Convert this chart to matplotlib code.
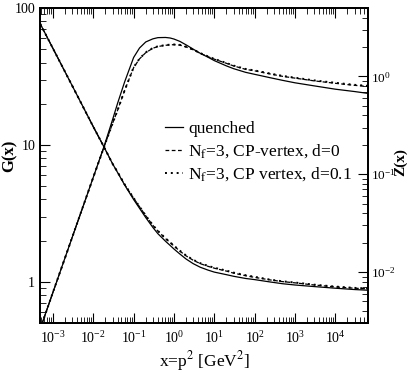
import numpy as np
import matplotlib
matplotlib.use("Agg")
import matplotlib.pyplot as plt
from matplotlib.ticker import (LogLocator, FixedLocator, FixedFormatter,
                               NullFormatter, LogFormatterSciNotation)

plt.rcParams['font.family'] = 'serif'
plt.rcParams['font.serif'] = ['Liberation Serif', 'DejaVu Serif']
plt.rcParams['mathtext.fontset'] = 'stix'

# momentum grid, x = p^2 [GeV^2]
x = [4.8e-4, 1e-3, 3e-3, 1e-2, 0.018, 0.03, 0.04, 0.06, 0.1, 0.14, 0.2, 0.3,
     0.4, 0.62, 0.8, 1.0, 1.4, 2.0, 3.0, 4.5, 7, 10, 20, 30, 60, 100, 240,
     500, 1e3, 3e3, 1e4, 3e4, 6.5e4]

# ghost dressing function G(x)
G_quenched = [77, 50.7, 27.1, 13.6, 9.8, 7.3, 6.3, 5.1, 4.0, 3.45, 2.95, 2.5,
              2.25, 1.98, 1.85, 1.74, 1.6, 1.47, 1.36, 1.28, 1.22, 1.18, 1.13,
              1.1, 1.06, 1.04, 1.0, 0.97, 0.95, 0.925, 0.9, 0.88, 0.87]
G_d0 = [77, 50.7, 27.1, 13.6, 9.8, 7.3, 6.34, 5.14, 4.09, 3.54, 3.04, 2.59,
        2.35, 2.07, 1.94, 1.83, 1.68, 1.55, 1.44, 1.36, 1.3, 1.26, 1.2,
        1.16, 1.11, 1.08, 1.035, 1.005, 0.985, 0.95, 0.92, 0.9, 0.89]
G_d01 = [77, 50.7, 27.1, 13.6, 9.8, 7.3, 6.35, 5.15, 4.1, 3.55, 3.05, 2.6,
         2.36, 2.08, 1.95, 1.84, 1.69, 1.56, 1.45, 1.37, 1.31, 1.27, 1.21,
         1.17, 1.12, 1.09, 1.04, 1.01, 0.99, 0.955, 0.925, 0.905, 0.895]

# gluon dressing function Z(x)
Z_quenched = [0.0026, 0.0062, 0.0226, 0.093, 0.186, 0.36, 0.53, 0.88, 1.56,
              1.95, 2.25, 2.42, 2.49, 2.5, 2.47, 2.41, 2.28, 2.1, 1.9, 1.72,
              1.57, 1.45, 1.28, 1.2, 1.1, 1.05, 0.97, 0.91, 0.86, 0.8, 0.74,
              0.7, 0.67]
Z_d0 = [0.0026, 0.0062, 0.0226, 0.093, 0.184, 0.33, 0.45, 0.72, 1.23, 1.51,
        1.75, 1.94, 2.02, 2.08, 2.1, 2.11, 2.09, 2.0, 1.87, 1.72, 1.59, 1.5,
        1.36, 1.28, 1.18, 1.14, 1.06, 1.0, 0.96, 0.9, 0.85, 0.81, 0.79]
Z_d01 = [0.0026, 0.0062, 0.0226, 0.093, 0.184, 0.33, 0.45, 0.72, 1.24, 1.52,
         1.76, 1.95, 2.03, 2.09, 2.11, 2.12, 2.1, 2.01, 1.88, 1.73, 1.6, 1.51,
         1.37, 1.29, 1.19, 1.15, 1.07, 1.01, 0.97, 0.91, 0.86, 0.82, 0.8]

x_major = [1e-3, 1e-2, 1e-1, 1e0, 1e1, 1e2, 1e3, 1e4]

fig = plt.figure(figsize=(4.09, 3.82), dpi=100)
ax = fig.add_axes([0.098, 0.154, 0.802, 0.825])
ax2 = ax.twinx()

l1, = ax.plot(x, G_quenched, color='black', lw=0.9, ls='-')
l2, = ax.plot(x, G_d0, color='black', lw=0.9, ls=(0, (3, 2)))
l3, = ax.plot(x, G_d01, color='black', lw=1.4, ls=(0, (1, 2)))

ax2.plot(x, Z_quenched, color='black', lw=0.9, ls='-')
ax2.plot(x, Z_d0, color='black', lw=0.9, ls=(0, (3, 2)))
ax2.plot(x, Z_d01, color='black', lw=1.4, ls=(0, (1, 2)))

ax.set_xscale('log')
ax.set_yscale('log')
ax2.set_yscale('log')
ax.set_xlim(4.8e-4, 6.5e4)
ax.set_ylim(0.5, 100)
ax2.set_ylim(0.003, 5)

ax.xaxis.set_major_locator(FixedLocator(x_major))
ax.xaxis.set_major_formatter(LogFormatterSciNotation())
ax.xaxis.set_minor_locator(LogLocator(base=10, subs=np.arange(2, 10), numticks=100))
ax.xaxis.set_minor_formatter(NullFormatter())

ax.yaxis.set_major_locator(FixedLocator([1, 10, 100]))
ax.yaxis.set_major_formatter(FixedFormatter(['1', '10', '100']))
ax.yaxis.set_minor_locator(LogLocator(base=10, subs=np.arange(2, 10), numticks=100))
ax.yaxis.set_minor_formatter(NullFormatter())
ax2.yaxis.set_major_locator(FixedLocator([1e-2, 1e-1, 1e0]))
ax2.yaxis.set_major_formatter(LogFormatterSciNotation())
ax2.yaxis.set_minor_locator(LogLocator(base=10, subs=np.arange(2, 10), numticks=100))
ax2.yaxis.set_minor_formatter(NullFormatter())

ax.tick_params(which='both', direction='in', top=True, right=False, labelsize=10)
ax.tick_params(which='major', length=7)
ax.tick_params(which='minor', length=4)
ax.tick_params(axis='x', pad=5)
ax2.tick_params(which='both', direction='in', labelsize=9.5, pad=2)
ax2.tick_params(which='major', length=7)
ax2.tick_params(which='minor', length=4)
for a in (ax, ax2):
    for s in a.spines.values():
        s.set_linewidth(1.3)

ax.set_xlabel('x=p$^2$ [GeV$^2$]', fontsize=12.5, labelpad=2)
ax.set_ylabel('G(x)', fontsize=12, fontweight='bold')
ax.yaxis.set_label_coords(-0.067, 0.53)
ax2.set_ylabel('Z(x)', fontsize=11, fontweight='bold')
ax2.yaxis.set_label_coords(1.077, 0.51)

ax.legend([l1, l2, l3],
          ['quenched', 'N$_{\\mathrm{f}}$=3, CP-vertex, d=0',
           'N$_{\\mathrm{f}}$=3, CP vertex, d=0.1'],
          loc='upper left', bbox_to_anchor=(0.345, 0.68), frameon=False,
          fontsize=12.5, handlelength=1.0, handletextpad=0.3, labelspacing=0.3,
          borderpad=0.2)

fig.savefig('out.png', dpi=100)
